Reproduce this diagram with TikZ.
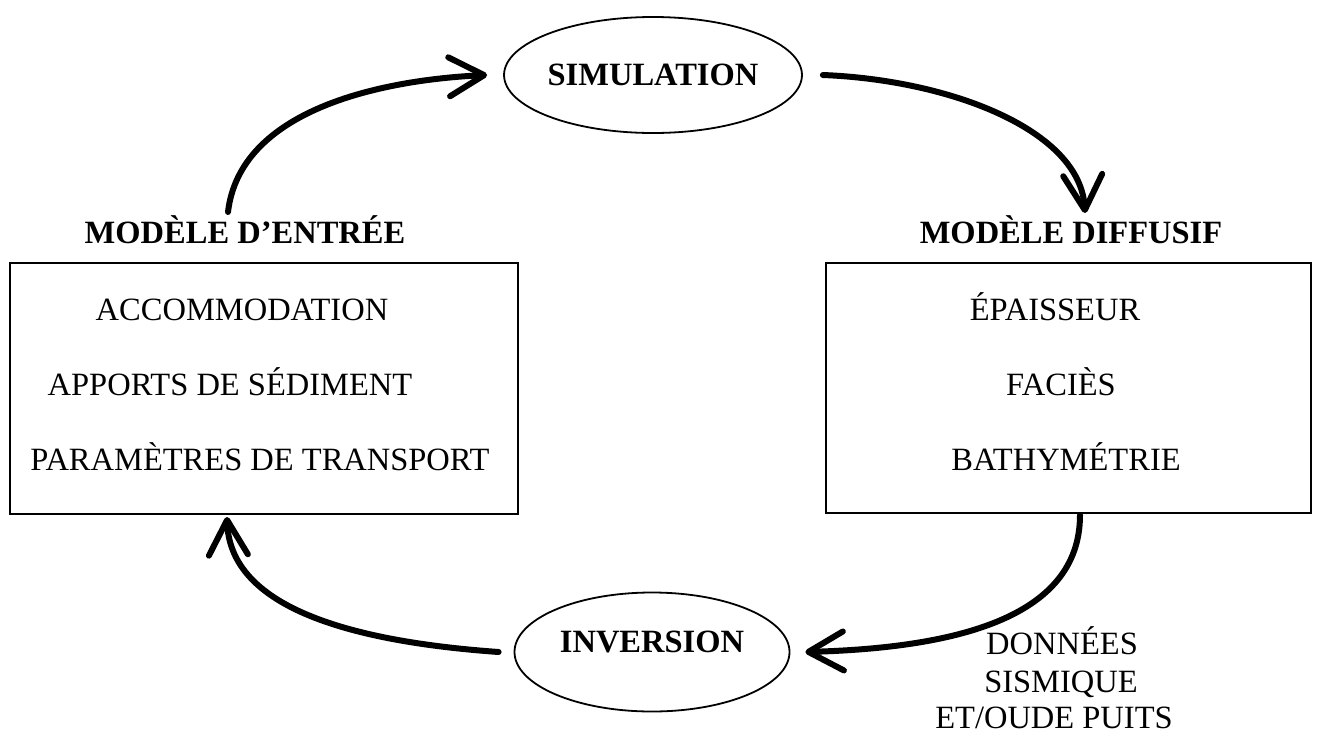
\documentclass[tikz,border=0pt]{standalone}
\usepackage{fontspec}
\setmainfont{Liberation Serif}
\usetikzlibrary{arrows.meta,shapes.geometric}
\begin{document}
\begin{tikzpicture}[x=1pt,y=-1pt,
  txt/.style={anchor=base,inner sep=0pt,font=\fontsize{32.5pt}{39pt}\selectfont},
  ttl/.style={anchor=base,inner sep=0pt,font=\fontsize{32.5pt}{39pt}\selectfont\bfseries},
  ell/.style={draw,ellipse,line width=1.8pt,inner sep=0pt,font=\fontsize{32.5pt}{39pt}\selectfont\bfseries},
  boxx/.style={draw,rectangle,line width=2.2pt,inner sep=0pt},
  arr/.style={line width=6pt,line cap=round,-{Straight Barb[length=35pt,width=39pt,round]}}]
\useasboundingbox (0,0) rectangle (1328,734);
% ellipses
\node[ell,minimum width=270pt,minimum height=116pt] (sim) at (653,75) {SIMULATION};
\node[ell,minimum width=275pt,minimum height=119pt,
  label={[yshift=10pt,font=\fontsize{32.5pt}{39pt}\selectfont\bfseries]center:INVERSION}] (inv) at (652,652) {};
% boxes
\node[boxx,minimum width=508pt,minimum height=251pt] (boxL) at (264,388.5) {};
\node[boxx,minimum width=485pt,minimum height=250pt] (boxR) at (1068.5,388) {};
% titles
\node[ttl] (tL) at (245,243) {MODÈLE D’ENTRÉE};
\node[ttl] (tR) at (1071,243) {MODÈLE DIFFUSIF};
% left box content
\node[txt] (acc) at (242,320) {ACCOMMODATION};
\node[txt] (app) at (230,395) {APPORTS DE SÉDIMENT};
\node[txt] (par) at (260,470) {PARAMÈTRES DE TRANSPORT};
% right box content
\node[txt] (epa) at (1055,320) {ÉPAISSEUR};
\node[txt] (fac) at (1061,395) {FACIÈS};
\node[txt] (bat) at (1066,470) {BATHYMÉTRIE};
% data
\node[txt] (d1) at (1062,654) {DONNÉES};
\node[txt] (d2) at (1061,692) {SISMIQUE};
\node[txt] (d3) at (1054,728) {ET/OUDE PUITS};
% arrows
\coordinate (a1s) at (228,212);
\coordinate (a2e) at (1085,213);
\coordinate (a3s) at (1080,515);
\coordinate (a4e) at (227,517);
\draw[arr] (a1s) .. controls (240,110) and (380,80) .. ([xshift=-16pt]sim.west);
\draw[arr] ([xshift=20pt]sim.east) .. controls (950,80) and (1080,130) .. (a2e);
\draw[arr] (a3s) .. controls (1080,620) and (950,648) .. ([xshift=15pt]inv.east);
\draw[arr] ([xshift=-15pt]inv.west) .. controls (330,640) and (230,600) .. (a4e);
\end{tikzpicture}
\end{document}
